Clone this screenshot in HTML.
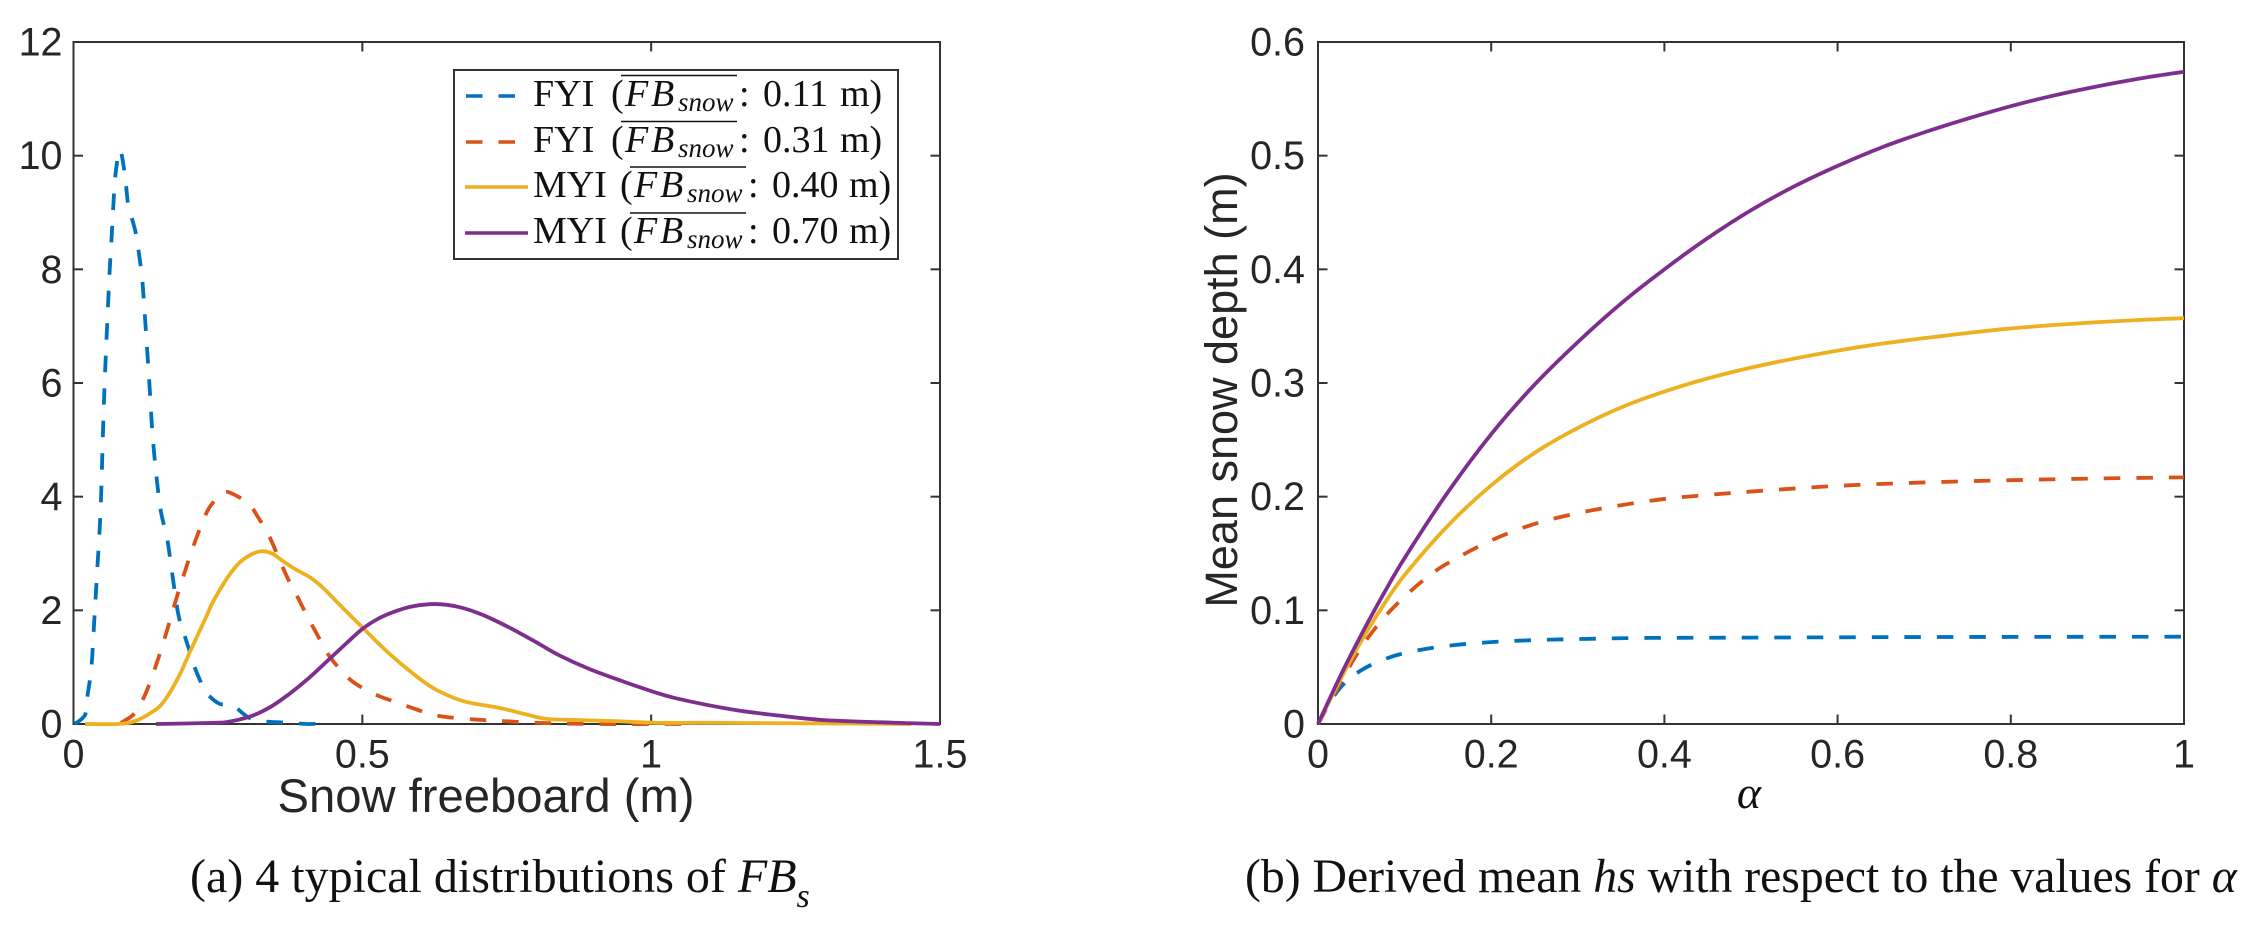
<!DOCTYPE html>
<html lang="en">
<head>
<meta charset="utf-8">
<title>Snow freeboard distributions and derived snow depth</title>
<style>
html,body{margin:0;padding:0;background:#fff;}
svg{display:block;}
.sans{font-family:"Liberation Sans",Arial,sans-serif;fill:#262626;}
.serif{font-family:"Liberation Serif","Times New Roman",serif;fill:#111;}
.it{font-style:italic;}
</style>
</head>
<body>
<svg id="figure" xmlns="http://www.w3.org/2000/svg" width="2254" height="926" viewBox="0 0 2254 926">
  <g id="panel-a"></g>
  <g id="panel-b"></g>

  <text class="sans" x="486" y="812" font-size="47.2" text-anchor="middle">Snow freeboard (m)</text>
  <text class="sans" transform="translate(1237,390) rotate(-90)" font-size="45" text-anchor="middle">Mean snow depth (m)</text>
  <text class="serif it" x="1749" y="808" font-size="46" text-anchor="middle">α</text>

  <text class="serif" x="190" y="892" font-size="48">(a) 4 typical distributions of <tspan class="it">FB</tspan><tspan class="it" font-size="34" dy="15">s</tspan></text>
  <text class="serif" x="1245" y="892" font-size="47.7">(b) Derived mean <tspan class="it">hs</tspan> with respect to the values for <tspan class="it">α</tspan></text>

  <g id="legend">
    <rect x="454" y="70" width="444" height="189" fill="#fff" stroke="#333" stroke-width="2"/>

    <g>
      <line x1="466" y1="96" x2="515" y2="96" stroke="#0072BD" stroke-width="3.6" stroke-dasharray="16.5 16"/>
      <line x1="621" y1="75.5" x2="737" y2="75.5" stroke="#111" stroke-width="1.6"/>
      <text class="serif" y="106" font-size="38"><tspan x="533">FYI</tspan><tspan x="611">(</tspan><tspan class="it" x="625 651">FB</tspan><tspan class="it" x="678" dy="5" font-size="27">snow</tspan><tspan x="739" dy="-5">:</tspan><tspan x="763">0.11</tspan><tspan x="840">m)</tspan></text>
    </g>
    <g>
      <line x1="466" y1="142" x2="515" y2="142" stroke="#D95319" stroke-width="3.6" stroke-dasharray="16.5 16"/>
      <line x1="621" y1="121.5" x2="737" y2="121.5" stroke="#111" stroke-width="1.6"/>
      <text class="serif" y="152" font-size="38"><tspan x="533">FYI</tspan><tspan x="611">(</tspan><tspan class="it" x="625 651">FB</tspan><tspan class="it" x="678" dy="5" font-size="27">snow</tspan><tspan x="739" dy="-5">:</tspan><tspan x="763">0.31</tspan><tspan x="840">m)</tspan></text>
    </g>
    <g>
      <line x1="465" y1="187" x2="528" y2="187" stroke="#EDB120" stroke-width="3.6"/>
      <line x1="630" y1="167" x2="746" y2="167" stroke="#111" stroke-width="1.6"/>
      <text class="serif" y="197" font-size="38"><tspan x="533">MYI</tspan><tspan x="620">(</tspan><tspan class="it" x="634 660">FB</tspan><tspan class="it" x="687" dy="5" font-size="27">snow</tspan><tspan x="748" dy="-5">:</tspan><tspan x="772">0.40</tspan><tspan x="849">m)</tspan></text>
    </g>
    <g>
      <line x1="465" y1="233" x2="528" y2="233" stroke="#7E2F8E" stroke-width="3.6"/>
      <line x1="630" y1="213" x2="746" y2="213" stroke="#111" stroke-width="1.6"/>
      <text class="serif" y="243" font-size="38"><tspan x="533">MYI</tspan><tspan x="620">(</tspan><tspan class="it" x="634 660">FB</tspan><tspan class="it" x="687" dy="5" font-size="27">snow</tspan><tspan x="748" dy="-5">:</tspan><tspan x="772">0.70</tspan><tspan x="849">m)</tspan></text>
    </g>
  </g>
</svg>

<script>
// ---------- Panel (a) data ----------
const aXTicks = [0, 0.5, 1, 1.5];
const aXTickLabels = ['0', '0.5', '1', '1.5'];
const aYTicks = [0, 2, 4, 6, 8, 10, 12];
const aYTickLabels = ['0', '2', '4', '6', '8', '10', '12'];

const aFyi011X = [0.002,0.02,0.024,0.031,0.036,0.041,0.047,0.053,0.0615,0.066,0.069,0.073,0.0805,0.089,0.095,0.103,0.109,0.117,0.12,0.131,0.138,0.15,0.162,0.17,0.181,0.191,0.202,0.207,0.219,0.229,0.252,0.275,0.302,0.325,0.375,0.408,0.434];
const aFyi011Y = [0,0.16,0.48,1.0,1.83,2.7,3.8,5.75,7.75,8.57,9.13,9.7,10.1,9.66,9.1,8.83,8.57,8.0,7.7,6.05,4.94,3.82,3.27,2.71,1.95,1.6,1.25,1.07,0.77,0.56,0.36,0.33,0.12,0.05,0.02,0,0.02];

const aFyi031X = [0.082,0.106,0.125,0.146,0.162,0.179,0.195,0.203,0.2155,0.226,0.238,0.2605,0.283,0.3055,0.3206,0.335,0.347,0.3696,0.3846,0.3955,0.407,0.4215,0.4336,0.444,0.464,0.484,0.51,0.534,0.56,0.587,0.614,0.64,0.693,0.745,0.806,0.905,1.055];
const aFyi031Y = [0.02,0.19,0.54,1.13,1.65,2.24,2.75,3.0,3.35,3.62,3.85,4.08,4.01,3.85,3.62,3.38,3.12,2.59,2.3,2.08,1.85,1.58,1.35,1.18,0.93,0.74,0.58,0.47,0.38,0.28,0.19,0.13,0.08,0.05,0.02,0,0];

const aMyi040X = [0.02,0.076,0.106,0.136,0.156,0.182,0.202,0.229,0.2415,0.2675,0.2865,0.3055,0.3246,0.3436,0.362,0.3846,0.411,0.4336,0.4596,0.501,0.54,0.58,0.6136,0.64,0.679,0.739,0.779,0.819,0.8716,0.938,1.011,1.12,1.45];
const aMyi040Y = [0,0,0.05,0.21,0.39,0.83,1.28,1.87,2.15,2.59,2.83,2.97,3.04,3.0,2.87,2.72,2.57,2.38,2.11,1.69,1.3,0.95,0.69,0.54,0.39,0.28,0.18,0.09,0.07,0.05,0.02,0.02,0];

const aMyi070X = [0.1425,0.2415,0.2685,0.308,0.341,0.375,0.4077,0.4405,0.4734,0.501,0.527,0.5536,0.5868,0.6266,0.6665,0.706,0.752,0.799,0.8386,0.8925,0.951,1.0,1.044,1.143,1.22,1.2975,1.398,1.5];
const aMyi070Y = [0,0.02,0.04,0.14,0.3,0.54,0.81,1.12,1.43,1.68,1.85,1.97,2.07,2.11,2.06,1.93,1.71,1.45,1.22,0.97,0.75,0.58,0.45,0.25,0.15,0.07,0.03,0];

// ---------- Panel (b) data ----------
const bXTicks = [0, 0.2, 0.4, 0.6, 0.8, 1];
const bXTickLabels = ['0', '0.2', '0.4', '0.6', '0.8', '1'];
const bYTicks = [0, 0.1, 0.2, 0.3, 0.4, 0.5, 0.6];
const bYTickLabels = ['0', '0.1', '0.2', '0.3', '0.4', '0.5', '0.6'];

const bFyi011X = [0,0.0235,0.0504,0.0851,0.1216,0.1582,0.1948,0.2313,0.2679,0.3045,0.3768,0.5,0.7,1];
const bFyi011Y = [0,0.0299,0.0475,0.0592,0.0657,0.0695,0.0718,0.0733,0.0742,0.0748,0.0757,0.076,0.0765,0.0768];

const bFyi031X = [0,0.025,0.05,0.075,0.1,0.125,0.15,0.2,0.25,0.3,0.35,0.4,0.45,0.5,0.6,0.7,0.8,0.9,1];
const bFyi031Y = [0,0.035,0.0675,0.0925,0.112,0.1285,0.1415,0.1615,0.176,0.1855,0.1925,0.198,0.2015,0.2045,0.2095,0.2125,0.2145,0.216,0.217];

const bMyi040X = [0,0.025,0.05,0.075,0.1,0.15,0.2,0.25,0.3,0.35,0.4,0.45,0.5,0.55,0.6,0.65,0.7,0.75,0.8,0.85,0.9,0.95,1];
const bMyi040Y = [0,0.038,0.073,0.104,0.131,0.1745,0.21,0.2385,0.2605,0.2785,0.2925,0.304,0.3135,0.3215,0.3285,0.3345,0.3395,0.344,0.348,0.351,0.3535,0.3555,0.357];

const bMyi070X = [0,0.025,0.05,0.075,0.1,0.15,0.2,0.25,0.3,0.35,0.4,0.45,0.5,0.55,0.6,0.65,0.7,0.75,0.8,0.85,0.9,0.95,1];
const bMyi070Y = [0,0.041,0.0785,0.1135,0.146,0.204,0.255,0.2985,0.336,0.37,0.4,0.4275,0.452,0.473,0.491,0.507,0.5205,0.5325,0.5435,0.553,0.561,0.568,0.5738];

// ---------- Series style ----------
const BLUE = '#0072BD', ORANGE = '#D95319', YELLOW = '#EDB120', PURPLE = '#7E2F8E';
const DASH = '16.5 16';
const SVGNS = 'http://www.w3.org/2000/svg';

function make(parent, tag, attrs) {
  const e = document.createElementNS(SVGNS, tag);
  for (const k in attrs) e.setAttribute(k, attrs[k]);
  parent.appendChild(e);
  return e;
}

function curvePath(px, py) {
  let d = 'M' + px[0].toFixed(2) + ' ' + py[0].toFixed(2);
  for (let i = 0; i < px.length - 1; i++) {
    const i0 = Math.max(i - 1, 0), i3 = Math.min(i + 2, px.length - 1);
    const c1x = px[i] + (px[i + 1] - px[i0]) / 6;
    const c1y = py[i] + (py[i + 1] - py[i0]) / 6;
    const c2x = px[i + 1] - (px[i3] - px[i]) / 6;
    const c2y = py[i + 1] - (py[i3] - py[i]) / 6;
    d += 'C' + c1x.toFixed(2) + ' ' + c1y.toFixed(2) + ' ' + c2x.toFixed(2) + ' ' + c2y.toFixed(2) + ' ' + px[i + 1].toFixed(2) + ' ' + py[i + 1].toFixed(2);
  }
  return d;
}

function drawPanel(g, box, xDomain, yDomain, xTicks, xLabels, yTicks, yLabels, series, labelRight, prefix) {
  const sx = v => box.left + (v - xDomain[0]) / (xDomain[1] - xDomain[0]) * (box.right - box.left);
  const sy = v => box.bottom - (v - yDomain[0]) / (yDomain[1] - yDomain[0]) * (box.bottom - box.top);
  const TICK = 9.5, AXIS = '#333';

  const frame = make(g, 'rect', {x: box.left, y: box.top, width: box.right - box.left, height: box.bottom - box.top, fill: 'none', stroke: AXIS, 'stroke-width': 2});
  
  

  xTicks.forEach((t, i) => {
    const x = sx(t);
    const low = make(g, 'line', {x1: x, x2: x, y1: box.bottom, y2: box.bottom - TICK, stroke: AXIS, 'stroke-width': 2});
    
    
    const high = make(g, 'line', {x1: x, x2: x, y1: box.top, y2: box.top + TICK, stroke: AXIS, 'stroke-width': 2});
    
    
    const label = make(g, 'text', {x: x, y: 767.5, 'text-anchor': 'middle', 'font-size': 39.5, class: 'sans'});
    
    
    label.textContent = xLabels[i];
  });

  yTicks.forEach((t, i) => {
    const y = sy(t);
    const low = make(g, 'line', {x1: box.left, x2: box.left + TICK, y1: y, y2: y, stroke: AXIS, 'stroke-width': 2});
    
    
    const high = make(g, 'line', {x1: box.right, x2: box.right - TICK, y1: y, y2: y, stroke: AXIS, 'stroke-width': 2});
    
    
    const label = make(g, 'text', {x: labelRight, y: y + 13.5, 'text-anchor': 'end', 'font-size': 39.5, class: 'sans'});
    
    
    label.textContent = yLabels[i];
  });

  series.forEach(s => {
    const attrs = {d: curvePath(s.x.map(sx), s.y.map(sy)), fill: 'none', stroke: s.color, 'stroke-width': 3.8, 'stroke-linejoin': 'round'};
    if (s.dash) attrs['stroke-dasharray'] = s.dash;
    const line = make(g, 'path', attrs);
    
    
  });
}

drawPanel(document.getElementById('panel-a'),
  {left: 73.5, right: 940, top: 42, bottom: 724},
  [0, 1.5], [0, 12], aXTicks, aXTickLabels, aYTicks, aYTickLabels,
  [
    {name: 'fyi-011', x: aFyi011X, y: aFyi011Y, color: BLUE, dash: DASH},
    {name: 'fyi-031', x: aFyi031X, y: aFyi031Y, color: ORANGE, dash: DASH},
    {name: 'myi-040', x: aMyi040X, y: aMyi040Y, color: YELLOW},
    {name: 'myi-070', x: aMyi070X, y: aMyi070Y, color: PURPLE}
  ], 62.5, 'distribution');

drawPanel(document.getElementById('panel-b'),
  {left: 1318, right: 2184, top: 42, bottom: 724},
  [0, 1], [0, 0.6], bXTicks, bXTickLabels, bYTicks, bYTickLabels,
  [
    {name: 'fyi-011', x: bFyi011X, y: bFyi011Y, color: BLUE, dash: DASH},
    {name: 'fyi-031', x: bFyi031X, y: bFyi031Y, color: ORANGE, dash: DASH},
    {name: 'myi-040', x: bMyi040X, y: bMyi040Y, color: YELLOW},
    {name: 'myi-070', x: bMyi070X, y: bMyi070Y, color: PURPLE}
  ], 1305, 'depth');
</script>
</body>
</html>
